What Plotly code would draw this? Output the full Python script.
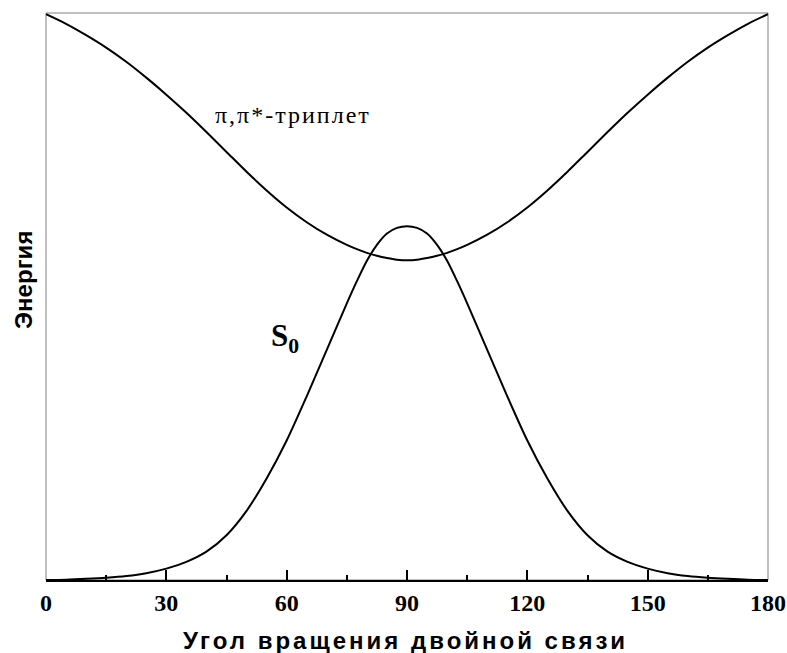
import plotly.graph_objects as go

angle_left = [0, 5, 10, 15, 20, 25, 30, 35, 40, 45, 50, 55, 60, 65, 70, 75, 77.5, 80, 82.5, 85, 87.5, 90]
s0_left = [0.0, 0.05, 0.2, 0.4, 0.7, 1.2, 2.0, 3.2, 5.0, 7.9, 12.2, 17.9, 24.6, 32.4,
           40.6, 48.8, 52.7, 56.3, 59.1, 61.1, 62.1, 62.4]
triplet_left = [99.8, 98.1, 96.1, 93.9, 91.4, 88.6, 85.6, 82.4, 79.0, 75.5, 72.0, 68.7,
                65.7, 63.1, 60.9, 59.1, 58.35, 57.7, 57.2, 56.8, 56.5, 56.4]

angles = angle_left + [180 - a for a in reversed(angle_left[:-1])]
s0 = s0_left + list(reversed(s0_left[:-1]))
triplet = triplet_left + list(reversed(triplet_left[:-1]))

x_ticks = [0, 30, 60, 90, 120, 150, 180]
x_title = "Угол вращения двойной связи"
y_title = "Энергия"
triplet_label = "π,π*-триплет"
s0_label = "S<sub>0</sub>"

fig = go.Figure()
fig.add_trace(go.Scatter(x=angles, y=triplet, mode="lines",
                         line=dict(color="black", width=2, shape="spline", smoothing=0.8),
                         showlegend=False, hoverinfo="skip"))
fig.add_trace(go.Scatter(x=angles, y=s0, mode="lines",
                         line=dict(color="black", width=2, shape="spline", smoothing=0.8),
                         showlegend=False, hoverinfo="skip"))

fig.update_layout(
    width=787, height=653,
    margin=dict(l=46, r=19, t=13, b=73, autoexpand=False),
    paper_bgcolor="white", plot_bgcolor="white",
    xaxis=dict(range=[0, 180], tickvals=x_ticks, ticktext=[str(v) for v in x_ticks],
               ticks="inside", ticklen=10, tickwidth=2, tickcolor="black", automargin=False,
               minor=dict(tick0=15, dtick=30, ticks="inside", ticklen=5, tickwidth=2,
                          tickcolor="black", showgrid=False),
               showgrid=False, zeroline=False, showline=True, linecolor="black", linewidth=2,
               tickfont=dict(family="Liberation Serif", size=24, color="black", weight="bold")),
    yaxis=dict(range=[0, 100], showticklabels=False, ticks="", showgrid=False, zeroline=False,
               showline=False, automargin=False),
    shapes=[dict(type="rect", xref="paper", yref="paper", x0=0, y0=0, x1=1, y1=1,
                 line=dict(color="#808080", width=1), layer="below")],
    annotations=[
        dict(text=f'<span style="letter-spacing:3px">{x_title}</span>', xref="paper", yref="paper",
             x=0.4986, y=-0.106, xanchor="center", yanchor="middle", showarrow=False,
             font=dict(family="Liberation Sans", size=24, color="black", weight="bold")),
        dict(text=y_title, xref="paper", yref="paper", x=-0.032, y=0.529, textangle=-90,
             xanchor="center", yanchor="middle", showarrow=False,
             font=dict(family="Liberation Sans", size=24, color="black", weight="bold")),
        dict(text=f'<span style="letter-spacing:2px">{triplet_label}</span>', x=61.6, y=82.0,
             xanchor="center", yanchor="middle", showarrow=False,
             font=dict(family="Liberation Serif", size=24, color="black")),
        dict(text=s0_label, x=59.6, y=42.6, xanchor="center", yanchor="middle", showarrow=False,
             font=dict(family="Liberation Serif", size=31, color="black", weight="bold")),
    ],
)

fig.write_html("out.html", config={"displayModeBar": False},
               post_script="document.body.style.margin='0';document.body.style.overflow='hidden';")
